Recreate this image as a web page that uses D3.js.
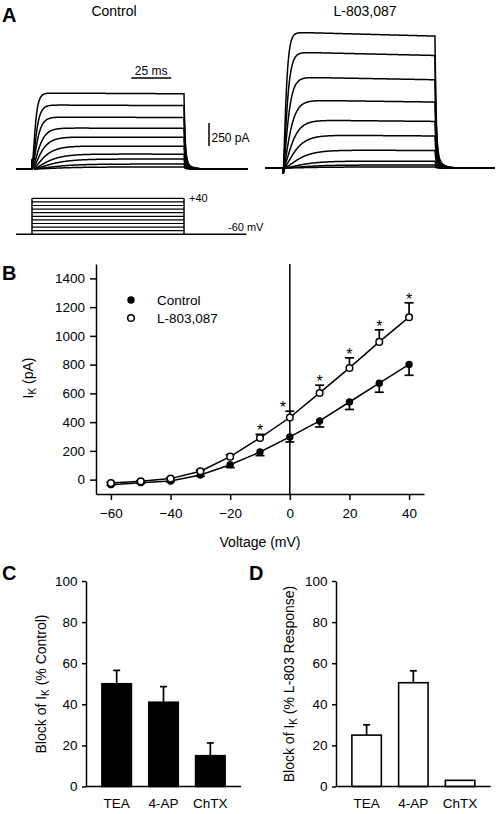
<!DOCTYPE html>
<html><head><meta charset="utf-8">
<script src="https://cdn.jsdelivr.net/npm/d3@7"></script>
<style>
body{margin:0;background:#fff}
svg{display:block;font-family:"Liberation Sans",Arial,Helvetica,sans-serif}
</style></head><body>
<svg id="fig" width="496" height="814"></svg>
<script>
// ---------- Panel A data (representative traces) ----------
const stepVoltages = [-50,-40,-30,-20,-10,0,10,20,30,40];      // mV, holding -60
const holdingV = -60;
const controlTraceAmp = [22,54,109,163,250,348,446,565,696,826];   // pA
const l803TraceAmp    = [11,33,76,196,359,522,739,989,1261,1478];  // pA
const activationTau   = [14,12,10,8,6,4.5,3.5,2.5,2,1.5];           // ms
const transientAmp    = [180,-100];   // control, L-803 (pA)
const inactivation    = [0.01,0.03];  // fractional decline over step
const stepDuration = 95;              // ms
const timeBar = [62,87];              // ms (25 ms)
const currentBar = [250,500];         // pA (250 pA)

// ---------- Panel B data ----------
const voltages    = [-60,-50,-40,-30,-20,-10,0,10,20,30,40];
const controlMean = [-35,-21,-10,32,104,192,297,408,540,671,801];
const controlSEM  = [5,5,5,8,20,25,35,42,52,63,75];
const l803Mean    = [-24,-12,7,58,160,290,432,603,777,958,1130];
const l803SEM     = [5,5,5,8,14,25,44,54,70,84,100];
const significant = [-10,0,10,20,30,40];
const ivYTicks = [0,200,400,600,800,1000,1200,1400];
const ivXTicks = [-60,-40,-20,0,20,40];

// ---------- Panels C, D data ----------
const blockers = ["TEA","4-AP","ChTX"];
const blockControl    = [50,41,15];
const blockControlSEM = [6.5,7.6,6.2];
const blockL803       = [25,50.5,3];
const blockL803SEM    = [5,5.8,0];
const blockTicks = [0,20,40,60,80,100];

const svg = d3.select("#fig");
const FONT_TICK = 13.5, FONT_TITLE = 14;

function panelLabel(t, x, y){
  svg.append("text").attr("x",x).attr("y",y).attr("font-size",20)
     .attr("font-weight","bold").text(t);
}
panelLabel("A",2,22); panelLabel("B",2,280); panelLabel("C",2,580); panelLabel("D",249,580);

function styleAxis(a){
  a.attr("font-family",null).attr("font-size",null);
  a.selectAll("path,line").attr("stroke","#000").attr("stroke-width",1.5);
  a.selectAll("text").attr("font-size",FONT_TICK).attr("fill","#000");
}

// ================= Panel A =================
const xCtl = d3.scaleLinear().domain([-10,135]).range([16,248]);
const yCtl = d3.scaleLinear().domain([0,250]).range([169,146]);
const xL   = d3.scaleLinear().domain([-11.25,132.5]).range([265,495]);
const yL   = d3.scaleLinear().domain([0,250]).range([168,145]);

function tracePath(amp, tau, x, y, trans, inact){
  const pts = [];
  const [t0,t1] = x.domain();
  const Iend = amp*Math.pow(1-Math.exp(-stepDuration/tau),2)*(1-inact);
  for(let t=t0; t<=t1+1e-9; t+=0.2){
    let I;
    if(t<0) I=0;
    else if(t<=stepDuration) I = amp*Math.pow(1-Math.exp(-t/tau),2)*(1-inact*t/stepDuration) + trans*Math.exp(-t/0.35);
    else { const s=t-stepDuration; I = Iend*(0.85*Math.exp(-s/0.7)+0.15*Math.exp(-s/3)); }
    pts.push([t,I]);
  }
  return d3.line().x(d=>x(d[0])).y(d=>y(d[1]))(pts);
}
const gA = svg.append("g").attr("fill","none").attr("stroke","#000").attr("stroke-width",1.5);
stepVoltages.forEach((v,i)=>{
  gA.append("path").attr("d",tracePath(controlTraceAmp[i],activationTau[i],xCtl,yCtl,transientAmp[0],inactivation[0]));
  gA.append("path").attr("d",tracePath(l803TraceAmp[i],activationTau[i],xL,yL,transientAmp[1],inactivation[1]));
});

svg.append("text").attr("x",114).attr("y",16).attr("text-anchor","middle").attr("font-size",FONT_TITLE).text("Control");
svg.append("text").attr("x",365).attr("y",16).attr("text-anchor","middle").attr("font-size",FONT_TITLE).text("L-803,087");

// scale bars
svg.append("line").attr("x1",xCtl(timeBar[0])).attr("x2",xCtl(timeBar[1])).attr("y1",78).attr("y2",78)
  .attr("stroke","#000").attr("stroke-width",1.5);
svg.append("text").attr("x",(xCtl(timeBar[0])+xCtl(timeBar[1]))/2).attr("y",75).attr("text-anchor","middle")
  .attr("font-size",12).text("25 ms");
svg.append("line").attr("x1",209).attr("x2",209).attr("y1",yCtl(currentBar[0])).attr("y2",yCtl(currentBar[1]))
  .attr("stroke","#000").attr("stroke-width",1.5);
svg.append("text").attr("x",211.5).attr("y",142).attr("font-size",12).text("250 pA");

// voltage protocol
const yP = d3.scaleLinear().domain([-60,40]).range([234.3,198.3]);
const gP = svg.append("g").attr("stroke","#000").attr("fill","none");
gP.append("line").attr("x1",xCtl(-10)).attr("x2",xCtl(134)).attr("y1",yP(holdingV)).attr("y2",yP(holdingV)).attr("stroke-width",1.5);
stepVoltages.forEach(v=>{
  gP.append("line").attr("x1",xCtl(0)).attr("x2",xCtl(stepDuration)).attr("y1",yP(v)).attr("y2",yP(v)).attr("stroke-width",1.2);
});
[0,stepDuration].forEach(t=>{
  gP.append("line").attr("x1",xCtl(t)).attr("x2",xCtl(t)).attr("y1",yP(holdingV)).attr("y2",yP(d3.max(stepVoltages))).attr("stroke-width",1.5);
});
svg.append("text").attr("x",xCtl(stepDuration)+5).attr("y",202).attr("font-size",11).text("+40");
svg.append("text").attr("x",228).attr("y",231).attr("font-size",11).text("-60 mV");

// ================= Panel B =================
const x = d3.scaleLinear().domain([-65,45]).range([96,424]);
const y = d3.scaleLinear().domain([-100,1500]).range([494,264]);
const gB = svg.append("g");
const yAx = gB.append("g").attr("transform","translate(96,0)")
  .call(d3.axisLeft(y).tickValues(ivYTicks).tickFormat(d3.format("d")).tickSize(6).tickSizeOuter(0).tickPadding(5));
const xAx = gB.append("g").attr("transform","translate(0,494)")
  .call(d3.axisBottom(x).tickValues(ivXTicks).tickFormat(d3.format("d")).tickSize(6).tickSizeOuter(0).tickPadding(8));
styleAxis(yAx); styleAxis(xAx);
// zero-voltage line
gB.append("line").attr("x1",x(0)).attr("x2",x(0)).attr("y1",y(1500)).attr("y2",y(-100))
  .attr("stroke","#000").attr("stroke-width",1.5);

// axis titles
gB.append("text").attr("x",260).attr("y",547).attr("text-anchor","middle").attr("font-size",FONT_TITLE).text("Voltage (mV)");
const ik = gB.append("text").attr("transform","translate(33,378) rotate(-90)").attr("text-anchor","middle").attr("font-size",FONT_TITLE);
ik.append("tspan").text("I");
ik.append("tspan").attr("font-size",10).attr("dy",3).text("K");
ik.append("tspan").attr("dy",-3).text(" (pA)");

const ctl = voltages.map((v,i)=>({v,m:controlMean[i],e:controlSEM[i]}));
const l8  = voltages.map((v,i)=>({v,m:l803Mean[i],e:l803SEM[i]}));
const line = d3.line().x(d=>x(d.v)).y(d=>y(d.m));
gB.append("path").attr("d",line(ctl)).attr("fill","none").attr("stroke","#000").attr("stroke-width",1.5);
gB.append("path").attr("d",line(l8)).attr("fill","none").attr("stroke","#000").attr("stroke-width",1.5);

function errBars(data, dir){
  const g = gB.append("g").attr("stroke","#000").attr("stroke-width",1.7);
  data.forEach(d=>{
    const ye = y(d.m + dir*d.e);
    g.append("line").attr("x1",x(d.v)).attr("x2",x(d.v)).attr("y1",y(d.m)).attr("y2",ye);
    g.append("line").attr("x1",x(d.v)-4.5).attr("x2",x(d.v)+4.5).attr("y1",ye).attr("y2",ye);
  });
}
errBars(ctl,-1); errBars(l8,1);

gB.selectAll("circle.c").data(ctl).join("circle").attr("cx",d=>x(d.v)).attr("cy",d=>y(d.m)).attr("r",3.7).attr("fill","#000");
gB.selectAll("circle.o").data(l8).join("circle").attr("cx",d=>x(d.v)).attr("cy",d=>y(d.m)).attr("r",3.3)
  .attr("fill","#fff").attr("stroke","#000").attr("stroke-width",1.5);

// significance asterisks
significant.forEach(v=>{
  const d = l8.find(p=>p.v===v);
  gB.append("text").attr("x",x(v)+(v===0?-7:0)).attr("y",y(d.m+d.e)+2).attr("text-anchor","middle")
    .attr("font-size",16).text("*");
});

// legend
gB.append("circle").attr("cx",131).attr("cy",300).attr("r",3.7).attr("fill","#000");
gB.append("circle").attr("cx",131).attr("cy",318).attr("r",3.3).attr("fill","#fff").attr("stroke","#000").attr("stroke-width",1.5);
gB.append("text").attr("x",157).attr("y",305).attr("font-size",FONT_TICK).text("Control");
gB.append("text").attr("x",157).attr("y",323).attr("font-size",FONT_TICK).text("L-803,087");

// ================= Panels C & D =================
function barPanel(x0, x1, vals, sems, fill, titleRest, titleX){
  const xb = d3.scaleBand().domain(blockers).range([x0,x1]).paddingInner(0.37).paddingOuter(0.34);
  const yb = d3.scaleLinear().domain([0,100]).range([786.5,581]);
  const g = svg.append("g");
  const ya = g.append("g").attr("transform",`translate(${x0},0)`)
    .call(d3.axisLeft(yb).tickValues(blockTicks).tickSize(4).tickSizeOuter(0).tickPadding(4.5));
  styleAxis(ya);
  blockers.forEach((b,i)=>{
    if(sems[i]>0){
      const cx = xb(b)+xb.bandwidth()/2, ye = yb(vals[i]+sems[i]);
      g.append("line").attr("x1",cx).attr("x2",cx).attr("y1",yb(vals[i])).attr("y2",ye).attr("stroke","#000").attr("stroke-width",1.7);
      g.append("line").attr("x1",cx-3.5).attr("x2",cx+3.5).attr("y1",ye).attr("y2",ye).attr("stroke","#000").attr("stroke-width",1.7);
    }
  });
  g.selectAll("rect").data(blockers).join("rect")
    .attr("x",d=>xb(d)).attr("width",xb.bandwidth())
    .attr("y",(d,i)=>yb(vals[i])).attr("height",(d,i)=>yb(0)-yb(vals[i]))
    .attr("fill",fill).attr("stroke","#000").attr("stroke-width",1.6);
  g.append("line").attr("x1",x0).attr("x2",x1).attr("y1",yb(0)).attr("y2",yb(0)).attr("stroke","#000").attr("stroke-width",1.5);
  blockers.forEach(b=>{
    g.append("text").attr("x",xb(b)+xb.bandwidth()/2).attr("y",808).attr("text-anchor","middle")
      .attr("font-size",FONT_TICK).text(b);
  });
  const t = g.append("text").attr("transform",`translate(${titleX},684) rotate(-90)`).attr("text-anchor","middle").attr("font-size",FONT_TITLE);
  t.append("tspan").text("Block of I");
  t.append("tspan").attr("font-size",10).attr("dy",3).text("K");
  t.append("tspan").attr("dy",-3).text(" "+titleRest);
}
barPanel(86,241,blockControl,blockControlSEM,"#000","(% Control)",46);
barPanel(336,490.7,blockL803,blockL803SEM,"#fff","(% L-803 Response)",293.5);
</script>
</body></html>
